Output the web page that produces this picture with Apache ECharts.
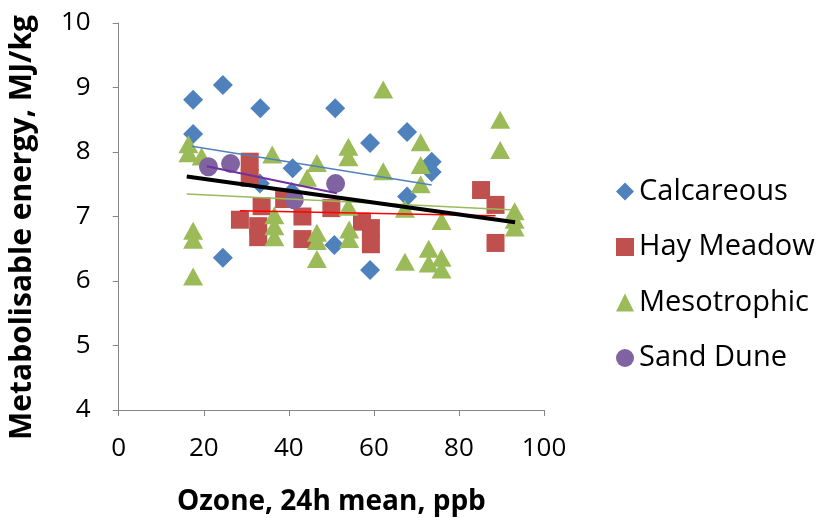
<!DOCTYPE html>
<html>
<head>
<meta charset="utf-8">
<script src="https://cdn.jsdelivr.net/npm/echarts@6/dist/echarts.min.js"></script>
<style>
html,body{margin:0;padding:0;background:#fff;}
#chart{width:823px;height:518px;}
</style>
</head>
<body>
<div id="chart"></div>
<script>
// Data: [ozone ppb, metabolisable energy MJ/kg]
const calcareous = [[17.5,8.81],[24.5,9.04],[33.3,8.68],[17.5,8.28],[24.5,6.36],[40.9,7.75],[33.2,7.51],[40.7,7.38],[50.9,8.68],[59.1,8.14],[50.7,6.56],[59.1,6.17],[67.8,8.31],[73.6,7.85],[73.6,7.69],[67.8,7.31]];
const hayMeadow = [[30.8,7.85],[30.8,7.6],[33.6,7.16],[28.5,6.95],[32.8,6.85],[32.8,6.68],[38.9,7.27],[43.2,7.0],[43.2,6.65],[50.0,7.13],[57.2,6.92],[59.3,6.82],[59.3,6.57],[85.2,7.41],[88.6,7.18],[88.6,6.59]];
const mesotrophic = [[16.4,8.12],[16.4,7.98],[19.5,7.93],[17.5,6.78],[17.5,6.64],[17.5,6.07],[36.1,7.96],[36.6,7.02],[36.6,6.85],[36.6,6.68],[44.3,7.6],[46.6,7.83],[46.6,6.75],[46.6,6.62],[46.6,6.34],[54.0,8.08],[54.0,7.92],[54.0,7.15],[54.2,6.8],[54.2,6.65],[62.2,8.97],[62.2,7.7],[67.3,7.12],[67.3,6.3],[71.0,8.15],[71.0,7.8],[71.0,7.5],[72.9,6.5],[72.9,6.27],[75.9,6.93],[75.9,6.36],[75.9,6.18],[89.7,8.5],[89.7,8.03],[93.1,7.08],[93.1,6.95],[93.1,6.83]];
const sandDune = [[21.1,7.77],[26.3,7.82],[41.3,7.26],[51.0,7.51]];
// Linear trendlines as drawn in the reference (start and end values)
const trendCalcareous = [[17.2,8.09],[73.6,7.49]];
const trendHayMeadow = [[28.5,7.09],[88.6,7.01]];
const trendMesotrophic = [[16.0,7.35],[93.1,7.10]];
const trendSandDune = [[20.7,7.78],[51.3,7.36]];
const trendAll = [[16.0,7.62],[93.2,6.91]];
const seriesNames = ['Calcareous','Hay Meadow','Mesotrophic','Sand Dune'];
const xTicks = [0,20,40,60,80,100];
const yTicks = [4,5,6,7,8,9,10];

const FONT = '"Open Sans"';
const chart = echarts.init(document.getElementById('chart'), null, {renderer:'canvas'});
const groups = [calcareous, hayMeadow, mesotrophic, sandDune];
const trends = [trendCalcareous, trendHayMeadow, trendMesotrophic, trendSandDune];
const colors = ['#4F81BD','#C0504D','#9BBB59','#8064A2'];
const symbols = ['diamond','rect','triangle','circle'];
const sizes = [[20,20],[18,18],[20,18],[19,19]];
const lineColors = ['#4F81BD','#FF0000','#9BBB59','#7030A0'];
const lineWidths = [1.5,1.5,1.5,2];

const series = [];
groups.forEach((g,i)=>{
  series.push({
    name: seriesNames[i], type:'scatter', data:g,
    symbol: symbols[i], symbolSize: sizes[i],
    itemStyle:{color:colors[i], opacity:1},
    z: 2 + i
  });
});
trends.forEach((t,i)=>{
  series.push({
    type:'line', data: t, showSymbol:false, symbol:'none',
    lineStyle:{color:lineColors[i], width:lineWidths[i]},
    silent:true, z: 10
  });
});
series.push({
  type:'line', data: trendAll, showSymbol:false, symbol:'none',
  lineStyle:{color:'#000000', width:4}, silent:true, z: 11
});

chart.setOption({
  animation:false,
  backgroundColor:'#fff',
  grid:{left:118.7, right:279, top:23, bottom:108, containLabel:false, outerBoundsMode:'none'},
  xAxis:{
    type:'value', min:xTicks[0], max:xTicks[xTicks.length-1], interval:20,
    name:'Ozone, 24h mean, ppb', nameLocation:'middle', nameGap:78,
    nameTextStyle:{fontFamily:FONT, fontWeight:'bold', fontSize:28, color:'#000'},
    axisLine:{show:true, onZero:false, lineStyle:{color:'#868686', width:1}},
    axisTick:{show:true, inside:false, length:6, lineStyle:{color:'#868686'}},
    axisLabel:{fontFamily:FONT, fontSize:26, color:'#000', margin:26},
    splitLine:{show:false}
  },
  yAxis:{
    type:'value', min:yTicks[0], max:yTicks[yTicks.length-1], interval:1,
    name:'Metabolisable energy, MJ/kg', nameLocation:'middle', nameGap:81,
    nameTextStyle:{fontFamily:FONT, fontWeight:'bold', fontSize:30, color:'#000', padding:[0,22,0,0]},
    axisLine:{show:true, onZero:false, lineStyle:{color:'#868686', width:1}},
    axisTick:{show:true, inside:false, length:6, lineStyle:{color:'#868686'}},
    axisLabel:{fontFamily:FONT, fontSize:26, color:'#000', margin:28},
    splitLine:{show:false}
  },
  legend:{
    data: seriesNames.map((n,i)=>({name:n, icon:symbols[i]})),
    orient:'vertical', left:611, top:172,
    itemWidth:18, itemHeight:18, itemGap:26.5,
    textStyle:{fontFamily:FONT, fontSize:29, color:'#000'}
  },
  series: series
});
</script>
</body>
</html>
